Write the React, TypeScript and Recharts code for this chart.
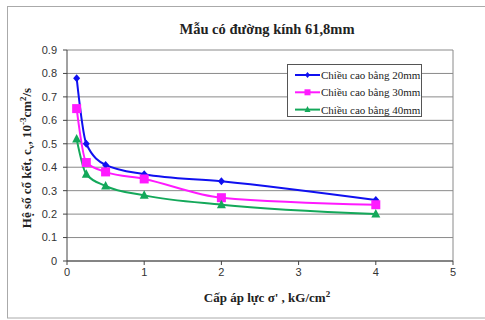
import React from 'react';
import { LineChart, Line, XAxis, YAxis, CartesianGrid, ReferenceLine } from 'recharts';

const pressures = [0.125, 0.25, 0.5, 1, 2, 4];
const cv20 = [0.78, 0.5, 0.41, 0.37, 0.34, 0.26];
const cv30 = [0.65, 0.42, 0.38, 0.35, 0.27, 0.24];
const cv40 = [0.52, 0.37, 0.32, 0.28, 0.24, 0.2];

const xTicks = [0, 1, 2, 3, 4, 5];
const yTicks = [0, 0.1, 0.2, 0.3, 0.4, 0.5, 0.6, 0.7, 0.8, 0.9];

const seriesNames = ['Chiều cao bằng 20mm', 'Chiều cao bằng 30mm', 'Chiều cao bằng 40mm'];
const colors = ['#1010f0', '#ff1aff', '#14a85a'];

const data = pressures.map((p, i) => ({ p, a: cv20[i], b: cv30[i], c: cv40[i] }));

const serif = 'Liberation Serif, Times New Roman, serif';
const sans = 'Liberation Sans, Arial, sans-serif';

function Marker({ kind, cx, cy, color }: { kind: number; cx: number; cy: number; color: string }) {
  if (kind === 0) {
    return <polygon points={`${cx},${cy - 4} ${cx + 3.5},${cy} ${cx},${cy + 4} ${cx - 3.5},${cy}`} fill={color} />;
  }
  if (kind === 1) {
    return <rect x={cx - 4.5} y={cy - 4.5} width={9} height={9} fill={color} />;
  }
  return <polygon points={`${cx},${cy - 5} ${cx + 4.5},${cy + 3.5} ${cx - 4.5},${cy + 3.5}`} fill={color} />;
}

function SmallMarker({ kind, cx, cy, color }: { kind: number; cx: number; cy: number; color: string }) {
  if (kind === 0) {
    return <polygon points={`${cx},${cy - 3} ${cx + 2.5},${cy} ${cx},${cy + 3} ${cx - 2.5},${cy}`} fill={color} />;
  }
  if (kind === 1) {
    return <rect x={cx - 3} y={cy - 3} width={6} height={6} fill={color} />;
  }
  return <polygon points={`${cx},${cy - 3.5} ${cx + 3},${cy + 2.5} ${cx - 3},${cy + 2.5}`} fill={color} />;
}

const makeDot = (kind: number) => (props: any) => (
  <Marker key={`dot-${kind}-${props.index}`} kind={kind} cx={props.cx} cy={props.cy} color={colors[kind]} />
);

function LegendBox() {
  return (
    <svg width={140} height={54} style={{ position: 'absolute', left: 287, top: 64 }}>
      <rect x={0.5} y={0.5} width={134} height={52} fill="white" stroke="#555" />
      {seriesNames.map((name, i) => {
        const y = 11 + i * 17.3;
        return (
          <g key={name}>
            <line x1={8} y1={y} x2={33} y2={y} stroke={colors[i]} strokeWidth={2} />
            <SmallMarker kind={i} cx={20.5} cy={y} color={colors[i]} />
            <text x={34} y={y + 4} fontFamily={serif} fontSize={11} fill="#222">
              {name}
            </text>
          </g>
        );
      })}
    </svg>
  );
}

export default function App() {
  return (
    <div style={{ position: 'absolute', left: 0, top: 0, width: 485, height: 320, background: 'white' }}>
      <LineChart width={485} height={320} data={data} margin={{ top: 50, right: 32, left: 27, bottom: 29 }}>
        <CartesianGrid horizontal vertical={false} stroke="#8a8a8a" />
        <XAxis
          dataKey="p"
          type="number"
          domain={[0, 5]}
          ticks={xTicks}
          interval={0}
          height={30}
          tickSize={4}
          tickMargin={3}
          stroke="#444"
          tick={{ fill: '#333', fontSize: 11, fontFamily: sans }}
        />
        <YAxis
          type="number"
          domain={[0, 0.9]}
          ticks={yTicks}
          interval={0}
          width={40}
          tickSize={4}
          tickMargin={6}
          stroke="#444"
          tick={{ fill: '#333', fontSize: 11, fontFamily: sans }}
        />
        <ReferenceLine x={5} stroke="#8a8a8a" />
        <Line dataKey="a" type="monotone" stroke={colors[0]} strokeWidth={2} dot={makeDot(0)} activeDot={false} isAnimationActive={false} />
        <Line dataKey="b" type="monotone" stroke={colors[1]} strokeWidth={2} dot={makeDot(1)} activeDot={false} isAnimationActive={false} />
        <Line dataKey="c" type="monotone" stroke={colors[2]} strokeWidth={2} dot={makeDot(2)} activeDot={false} isAnimationActive={false} />
      </LineChart>
      <LegendBox />
      <svg width={485} height={320} style={{ position: 'absolute', left: 0, top: 0, pointerEvents: 'none' }}>
        <rect x={7.5} y={6.5} width={500} height={311.5} fill="none" stroke="#aaa" />
        <text x={267} y={34} textAnchor="middle" fontFamily={serif} fontWeight="bold" fontSize={14.5} fill="#222">
          Mẫu có đường kính 61,8mm
        </text>
        <text x={267} y={302} textAnchor="middle" fontFamily={serif} fontWeight="bold" fontSize={13} fill="#222">
          Cấp áp lực σ' , kG/cm<tspan dy={-5} fontSize={9}>2</tspan>
        </text>
        <text transform="translate(31,158) rotate(-90)" textAnchor="middle" fontFamily={serif} fontWeight="bold" fontSize={13} fill="#222">
          Hệ số cố kết, c<tspan dy={3} fontSize={9}>v</tspan>
          <tspan dy={-3}>, 10</tspan>
          <tspan dy={-5} fontSize={9}>-3</tspan>
          <tspan dy={5}>cm</tspan>
          <tspan dy={-5} fontSize={9}>2</tspan>
          <tspan dy={5}>/s</tspan>
        </text>
      </svg>
    </div>
  );
}
